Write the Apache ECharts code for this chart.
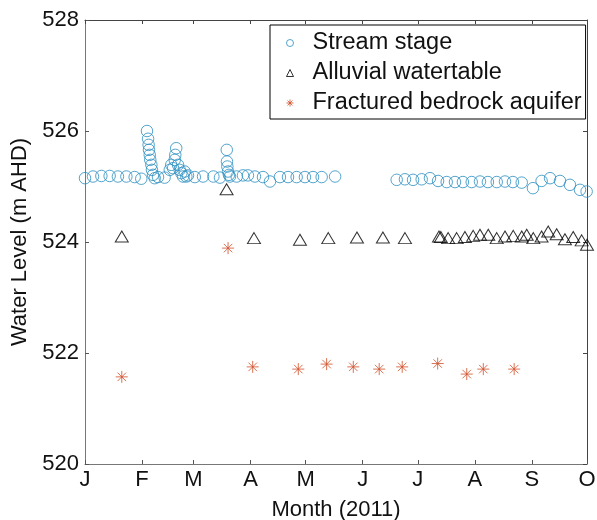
<!DOCTYPE html>
<html>
<head>
<meta charset="utf-8">
<script src="https://cdn.jsdelivr.net/npm/echarts@6/dist/echarts.min.js"></script>
<style>
html,body{margin:0;padding:0;background:#fff;}
#chart{width:597px;height:520px;}
</style>
</head>
<body>
<div id="chart"></div>
<script>
// Month ticks (days since 1 Jan 2011)
var monthLabels = ['J','F','M','A','M','J','J','A','S','O'];
var monthStartDays = [0,31,59,90,120,151,181,212,243,273];
var yTicks = [520,522,524,526,528];

// Stream stage
var streamDays = [0,4.35,8.9,13.4,17.9,22.5,27,30.6,
  33.7,34.3,34.6,34.8,35.2,35.5,36.1,36.4,37,37.9,
  39.7,43.3,
  46.1,46.9,47.9,48.8,49.1,49.6,50.6,51.5,52.4,53.3,54.2,55.1,56,
  59.7,64.2,69.8,73.4,
  77.1,77.2,77.4,77.8,78.3,78.8,
  82.5,85.9,88.6,92.4,96.8,100.6,106,110.4,115.1,119.6,124,128.7,136,
  169.5,174,178.4,183.1,187.6,192,196.7,201.2,205.5,210.3,214.8,219.1,223.9,228.4,232.7,237.5,243.6,248.3,252.9,258.3,263.7,269.2,272.8];
var streamLevels = [525.15,525.18,525.19,525.19,525.18,525.18,525.17,525.14,
  526.0,525.86,525.75,525.66,525.57,525.48,525.39,525.30,525.21,525.15,
  525.17,525.16,
  525.30,525.39,525.33,525.48,525.57,525.69,525.39,525.30,525.24,525.18,525.27,525.18,525.20,
  525.17,525.18,525.18,525.16,
  525.66,525.45,525.36,525.27,525.21,525.18,
  525.18,525.20,525.20,525.18,525.17,525.09,525.17,525.17,525.17,525.17,525.17,525.17,525.18,
  525.12,525.13,525.12,525.13,525.15,525.10,525.08,525.08,525.08,525.08,525.09,525.08,525.08,525.09,525.08,525.07,524.97,525.10,525.15,525.10,525.03,524.94,524.91];

// Alluvial watertable
var alluvialDays = [20,77,91.9,116.9,132.3,147.9,162,174,
  192.5,193.5,197.5,202.1,206.6,211.1,214.8,219.3,223.9,228.4,232.9,237.5,240.2,243.8,248.3,251.9,256.5,261,265.5,270.1,273];
var alluvialLevels = [524.10,524.95,524.07,524.04,524.07,524.08,524.08,524.07,
  524.10,524.09,524.07,524.07,524.09,524.11,524.13,524.13,524.07,524.10,524.11,524.10,524.13,524.07,524.10,524.19,524.14,524.05,524.09,524.03,523.95];

// Fractured bedrock aquifer
var bedrockDays = [20,77.8,91.2,116,131.4,145.9,160,172.5,191.8,207.6,216.6,233.4];
var bedrockLevels = [521.57,523.89,521.75,521.71,521.80,521.75,521.71,521.75,521.81,521.62,521.71,521.71];

function pairs(xs, ys){ return xs.map(function(x,i){ return [x, ys[i]]; }); }

var starPath = 'path://M0,-10L0,10M-10,0L10,0M-7.07,-7.07L7.07,7.07M-7.07,7.07L7.07,-7.07';
var streamColor = '#2b8fc0';
var alluvialColor = '#000000';
var bedrockColor = '#d14f28';
var fontFam = 'Liberation Sans, Arial, sans-serif';

var chart = echarts.init(document.getElementById('chart'), null, {renderer:'canvas'});
chart.setOption({
  animation: false,
  backgroundColor: '#ffffff',
  textStyle: {fontFamily: fontFam},
  grid: {left: 85, right: 10, top: 20, bottom: 56, containLabel: false, outerBoundsMode: 'none'},
  legend: {
    orient: 'vertical',
    left: 270, top: 25,
    padding: [6, 4, 4, 16],
    itemGap: 6,
    itemWidth: 7, itemHeight: 7,
    borderColor: '#000', borderWidth: 1,
    backgroundColor: '#fff',
    textStyle: {fontSize: 23.5, color: '#111', fontFamily: fontFam, padding: [0,0,0,14]},
    selectedMode: false,
    data: [
      {name: 'Stream stage', icon: 'circle',
        itemStyle: {color: 'rgba(0,0,0,0)', borderColor: streamColor, borderWidth: 1}},
      {name: 'Alluvial watertable', icon: 'triangle',
        itemStyle: {color: 'rgba(0,0,0,0)', borderColor: alluvialColor, borderWidth: 1}},
      {name: 'Fractured bedrock aquifer', icon: starPath,
        itemStyle: {color: 'rgba(0,0,0,0)', borderColor: bedrockColor, borderWidth: 1}}
    ]
  },
  xAxis: [{
    type: 'value', min: 0, max: 273,
    name: 'Month (2011)', nameLocation: 'middle', nameGap: 35,
    nameTextStyle: {fontSize: 22, color: '#111', fontFamily: fontFam},
    axisLine: {show: true, lineStyle: {color: '#777', width: 1}},
    axisTick: {show: true, inside: true, length: 4, customValues: monthStartDays, lineStyle: {color: '#555'}},
    axisLabel: {show: true, customValues: monthStartDays, fontSize: 22, color: '#111', margin: 5, fontFamily: fontFam,
      formatter: function(v){ var i = monthStartDays.indexOf(Math.round(v)); return i >= 0 ? monthLabels[i] : ''; }},
    splitLine: {show: false}
  },{
    type: 'value', min: 0, max: 273, position: 'top',
    axisLine: {show: true, onZero: false, lineStyle: {color: '#444', width: 1}},
    axisTick: {show: true, inside: true, length: 4, customValues: monthStartDays, lineStyle: {color: '#444'}},
    axisLabel: {show: false},
    splitLine: {show: false}
  }],
  yAxis: [{
    type: 'value', min: 520, max: 528, interval: 2,
    name: 'Water Level (m AHD)', nameLocation: 'middle', nameGap: 46,
    nameTextStyle: {fontSize: 22, color: '#111', fontFamily: fontFam},
    axisLine: {show: true, lineStyle: {color: '#777', width: 1}},
    axisTick: {show: true, inside: true, length: 4, lineStyle: {color: '#555'}},
    axisLabel: {fontSize: 22, color: '#111', margin: 6, fontFamily: fontFam},
    splitLine: {show: false}
  },{
    type: 'value', min: 520, max: 528, interval: 2, position: 'right',
    axisLine: {show: true, onZero: false, lineStyle: {color: '#444', width: 1}},
    axisTick: {show: true, inside: true, length: 4, lineStyle: {color: '#444'}},
    axisLabel: {show: false},
    splitLine: {show: false}
  }],
  series: [{
    name: 'Stream stage', type: 'scatter', symbol: 'circle', symbolSize: 11.5,
    data: pairs(streamDays, streamLevels),
    itemStyle: {color: 'rgba(0,0,0,0)', borderColor: streamColor, borderWidth: 1},
    emphasis: {disabled: true}
  },{
    name: 'Alluvial watertable', type: 'scatter', symbol: 'triangle', symbolSize: [13, 11],
    data: pairs(alluvialDays, alluvialLevels),
    itemStyle: {color: 'rgba(0,0,0,0)', borderColor: alluvialColor, borderWidth: 1},
    emphasis: {disabled: true}
  },{
    name: 'Fractured bedrock aquifer', type: 'scatter', symbol: starPath, symbolSize: 12,
    data: pairs(bedrockDays, bedrockLevels),
    itemStyle: {color: 'rgba(0,0,0,0)', borderColor: bedrockColor, borderWidth: 1},
    emphasis: {disabled: true}
  }]
});
</script>
</body>
</html>
